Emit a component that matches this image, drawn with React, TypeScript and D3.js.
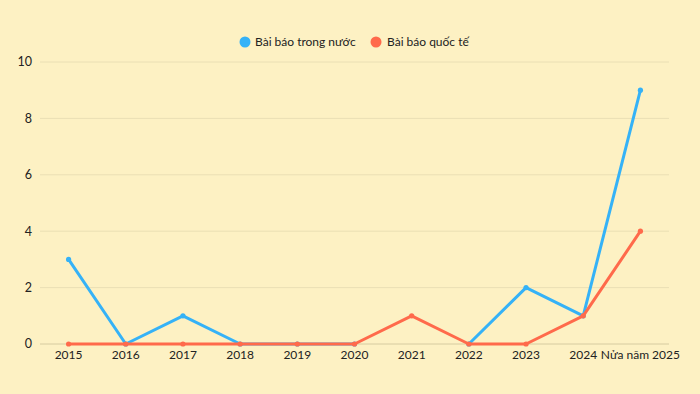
import React from "react";
import * as d3 from "d3";

const W = 700;
const H = 394;

const years = ["2015", "2016", "2017", "2018", "2019", "2020", "2021", "2022", "2023", "2024", "Nửa năm 2025"];
// null = no value for that year (line breaks there)
const domestic: (number | null)[] = [3, 0, 1, 0, 0, 0, null, 0, 2, 1, 9];
const international: (number | null)[] = [0, 0, 0, 0, 0, 0, 1, 0, 0, 1, 4];
const yTicks = [0, 2, 4, 6, 8, 10];

const seriesNames = ["Bài báo trong nước", "Bài báo quốc tế"];
const seriesColors = ["#35B2F7", "#FF6A4B"];

const FONT = "Lato, 'Noto Sans', sans-serif";

export default function App() {
  const x = d3.scalePoint<string>().domain(years).range([40, 669]).padding(0.5);
  const y = d3.scaleLinear().domain([0, 10]).range([344, 62]);

  const line = d3
    .line<number | null>()
    .defined((d) => d !== null)
    .x((_, i) => x(years[i]) as number)
    .y((d) => y(d as number));

  const series = [domestic, international];

  return (
    <div style={{ position: "fixed", left: 0, top: 0, width: W, height: H }}>
      <svg width={W} height={H} style={{ display: "block" }}>
        <rect width={W} height={H} fill="#FDF1C3" />
        {yTicks.map((t) => (
          <g key={t}>
            <line x1={40} x2={669} y1={y(t)} y2={y(t)} stroke={t === 0 ? "#D6CBA0" : "#EADFB4"} strokeWidth={1} />
            <text x={32} y={y(t)} dy="0.35em" textAnchor="end" fontSize={12.5} fontFamily={FONT} fill="#222">
              {t}
            </text>
          </g>
        ))}
        {years.map((yr) => (
          <text key={yr} x={x(yr)} y={359} textAnchor="middle" fontSize={12} fontFamily={FONT} fill="#222">
            {yr}
          </text>
        ))}
        {series.map((s, si) => (
          <g key={si}>
            <path d={line(s) ?? ""} fill="none" stroke={seriesColors[si]} strokeWidth={3} strokeLinejoin="round" />
            {s.map((v, i) =>
              v === null ? null : <circle key={i} cx={x(years[i])} cy={y(v)} r={2.6} fill={seriesColors[si]} />
            )}
          </g>
        ))}
        <g fontFamily={FONT} fontSize={12} fill="#222">
          <circle cx={245} cy={42} r={5.5} fill={seriesColors[0]} />
          <text x={255} y={42} dy="0.35em">{seriesNames[0]}</text>
          <circle cx={376} cy={42} r={5.5} fill={seriesColors[1]} />
          <text x={387} y={42} dy="0.35em">{seriesNames[1]}</text>
        </g>
      </svg>
    </div>
  );
}
